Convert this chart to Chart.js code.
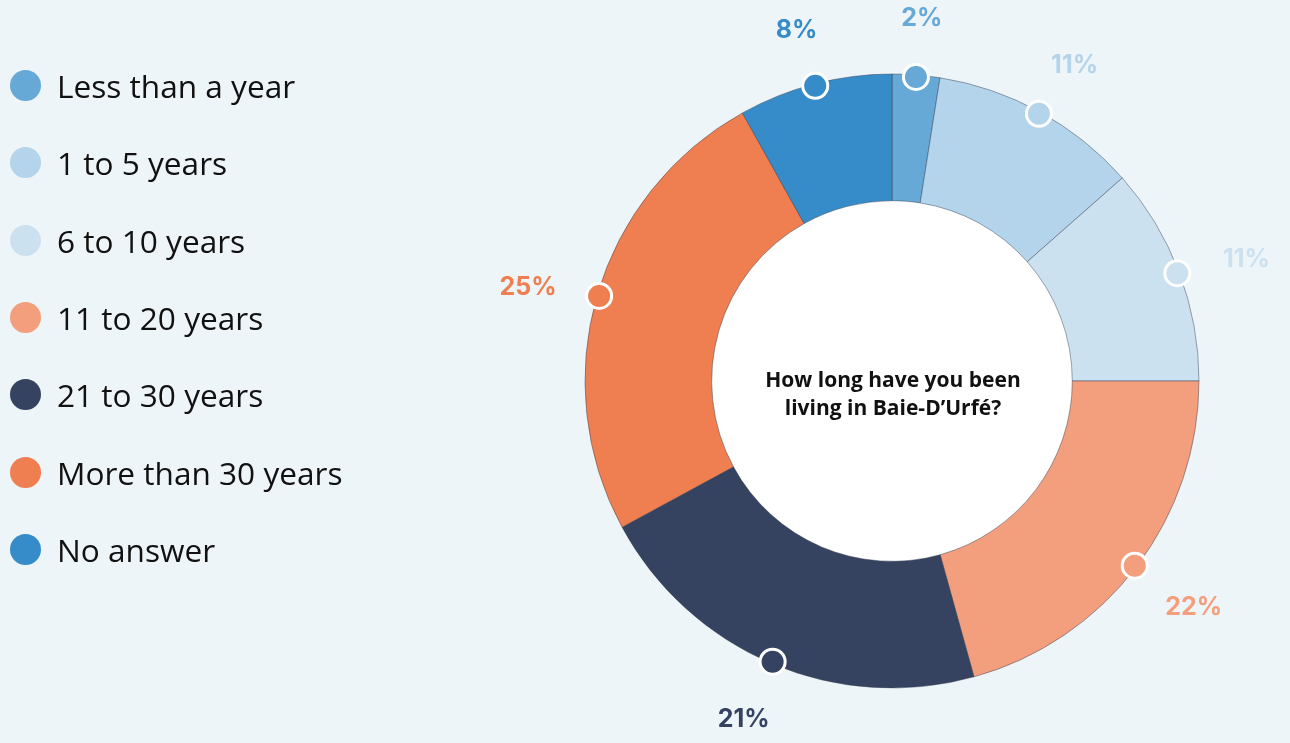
<!DOCTYPE html>
<html>
<head>
<meta charset="utf-8">
<script src="https://cdn.jsdelivr.net/npm/chart.js@4.4.1/dist/chart.umd.min.js"></script>
<style>
  html, body { margin: 0; padding: 0; background: #eef5f9; }
  #wrap { position: relative; width: 1290px; height: 743px; overflow: hidden; }
  #pieChart { position: absolute; left: 0; top: 0; }
  .leg { position: absolute; left: 0; height: 40px; font-family: "Open Sans", sans-serif; font-size: 31.6px; color: #111; white-space: nowrap; }
  .leg span.dot { position: absolute; left: 10px; top: 4px; width: 31px; height: 31px; border-radius: 50%; }
  .leg span.txt { position: absolute; left: 57px; top: 0px; line-height: 40px; }
</style>
</head>
<body>
<div id="wrap">
  <canvas id="pieChart" width="1290" height="743"></canvas>
</div>
<script>
// categories, values (share of answers, %), and the printed labels
var categories = ['Less than a year', '1 to 5 years', '6 to 10 years', '11 to 20 years', '21 to 30 years', 'More than 30 years', 'No answer'];
var shares = [2.5, 11, 11.5, 20.7, 21.4, 24.8, 8.1];
var pctLabels = ['2%', '11%', '11%', '22%', '21%', '25%', '8%'];
var colors = ['#66a9d6', '#b3d4eb', '#cce1f0', '#f39e7c', '#354360', '#ef7e51', '#358cc8'];
var question = ['How long have you been', 'living in Baie-D\u2019Urf\u00e9?'];

// html legend
var wrap = document.getElementById('wrap');
categories.forEach(function (c, i) {
    var d = document.createElement('div');
    d.className = 'leg';
    d.style.top = (66 + i * 77.3) + 'px';
    d.innerHTML = '<span class="dot" style="background:' + colors[i] + '"></span><span class="txt"></span>';
    d.querySelector('.txt').textContent = c;
    wrap.appendChild(d);
});

var markers = {
    id: 'markers',
    beforeDatasetsDraw: function (chart) {
        // white hole behind the text
        var arc = chart.getDatasetMeta(0).data[0];
        var ctx = chart.ctx;
        ctx.save();
        ctx.beginPath();
        ctx.arc(arc.x, arc.y, arc.innerRadius + 1, 0, Math.PI * 2);
        ctx.fillStyle = '#ffffff';
        ctx.fill();
        ctx.restore();
    },
    afterDatasetsDraw: function (chart) {
        var ctx = chart.ctx;
        var arcs = chart.getDatasetMeta(0).data;
        arcs.forEach(function (arc, i) {
            var a = (arc.startAngle + arc.endAngle) / 2;
            var R = arc.outerRadius - 2;
            var px = arc.x + Math.cos(a) * R;
            var py = arc.y + Math.sin(a) * R;
            ctx.save();
            ctx.beginPath();
            ctx.arc(px, py, 12.5, 0, Math.PI * 2);
            ctx.fillStyle = colors[i];
            ctx.fill();
            ctx.lineWidth = 3;
            ctx.strokeStyle = '#ffffff';
            ctx.stroke();
            // percentage label, pushed out more sideways than up/down
            ctx.font = '700 25px Inter, sans-serif';
            ctx.fillStyle = colors[i];
            ctx.textAlign = 'center';
            ctx.textBaseline = 'middle';
            var lx = px + Math.cos(a) * 74;
            var ly = py + Math.sin(a) * 59 + 8 * Math.abs(Math.cos(a));
            ctx.fillText(pctLabels[i], lx, ly);
            ctx.restore();
        });
        // question in the hole
        var c = arcs[0];
        ctx.save();
        ctx.font = '700 21px "Open Sans", sans-serif';
        ctx.fillStyle = '#111';
        ctx.textAlign = 'center';
        ctx.textBaseline = 'middle';
        ctx.fillText(question[0], c.x + 1, c.y);
        ctx.fillText(question[1], c.x + 1, c.y + 28);
        ctx.restore();
    }
};

var ctx = document.getElementById('pieChart');
new Chart(ctx, {
    type: 'doughnut',
    data: {
        labels: categories,
        datasets: [{
            data: shares,
            backgroundColor: colors,
            borderColor: 'rgba(50,60,80,0.45)',
            borderWidth: 1,
            hoverOffset: 0
        }]
    },
    options: {
        responsive: false,
        animation: false,
        radius: 307,
        cutout: 180,
        layout: { padding: { left: 585, right: 91, top: 74, bottom: 55 } },
        plugins: {
            legend: { display: false },
            tooltip: { enabled: false }
        }
    },
    plugins: [markers]
});
</script>
</body>
</html>
